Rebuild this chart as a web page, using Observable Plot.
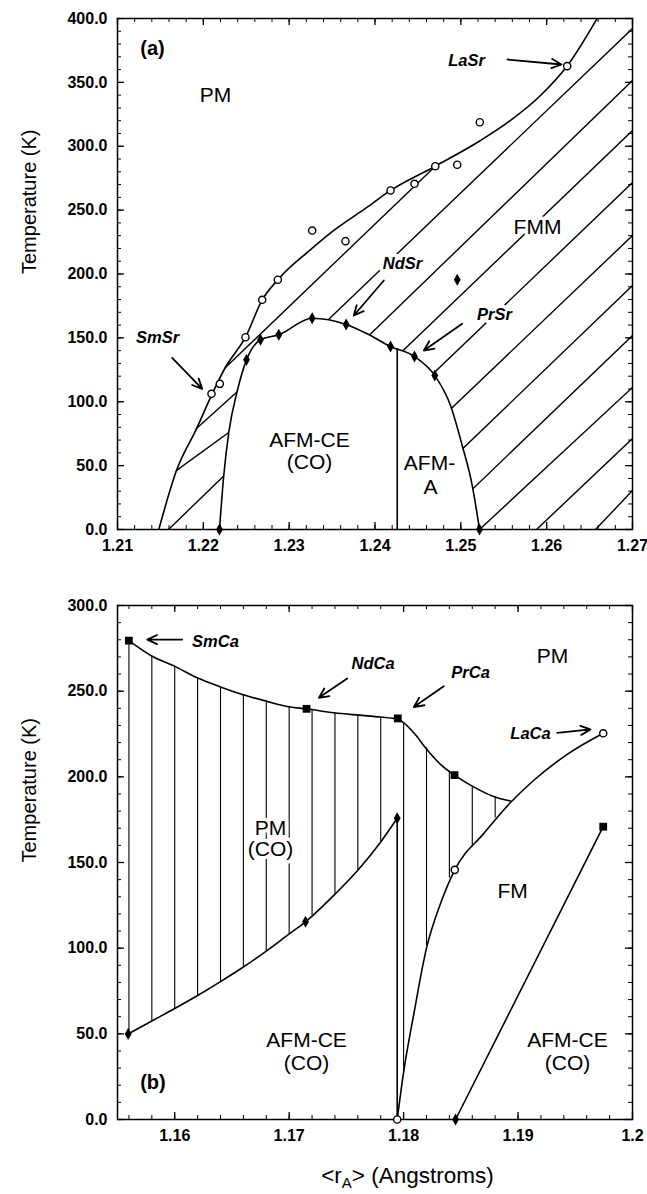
<!DOCTYPE html>
<html><head><meta charset="utf-8">
<script src="https://cdn.jsdelivr.net/npm/d3@7"></script>
<script src="https://cdn.jsdelivr.net/npm/@observablehq/plot@0.6"></script>
<style>
body{margin:0;background:#fff;}
#wrap{width:647px;}
#wrap svg{display:block;}
</style></head><body><div id="wrap"></div>
<script>
// ================= Panel (a) data =================
const aXDomain = [1.21, 1.27];
const aYDomain = [0, 400];
const aXTicks = [1.21, 1.22, 1.23, 1.24, 1.25, 1.26, 1.27];
const aXTickLabels = ["1.21", "1.22", "1.23", "1.24", "1.25", "1.26", "1.27"];
const aYTicks = [0, 50, 100, 150, 200, 250, 300, 350, 400];
const aYTickLabels = ["0.0", "50.0", "100.0", "150.0", "200.0", "250.0", "300.0", "350.0", "400.0"];

// open circles (Tc)
const aOpenX = [1.22095, 1.22192, 1.22491, 1.22686, 1.22868, 1.23268, 1.23656, 1.24181, 1.24460, 1.24702, 1.24958, 1.25221, 1.26239];
const aOpenT = [106.2, 114.0, 150.5, 179.8, 195.5, 234.0, 225.7, 265.4, 270.6, 284.4, 285.5, 318.8, 362.7];
// filled diamonds (T_CO)
const aCOX = [1.22188, 1.22503, 1.22666, 1.22879, 1.23268, 1.23664, 1.24181, 1.24460, 1.24697, 1.25218, 1.24958];
const aCOT = [0, 132.8, 148.5, 152.4, 165.4, 160.5, 143.2, 135.4, 120.5, 0, 195.5];
// PM / FMM boundary curve
const aTcX = [1.21481, 1.21687, 1.21920, 1.22103, 1.22258, 1.22491, 1.22686, 1.22868, 1.23249, 1.23520, 1.23909, 1.24181, 1.24702, 1.25229, 1.25579, 1.25928, 1.26243, 1.26592];
const aTcT = [0, 46.2, 78.8, 106.2, 127.0, 150.5, 179.8, 195.5, 219.0, 234.1, 252.3, 265.4, 284.4, 304.5, 320.2, 339.7, 363.2, 400.5];
// charge-order dome
const aDomeX = [1.22188, 1.22238, 1.22297, 1.22395, 1.22503, 1.22666, 1.22879, 1.23268, 1.23462, 1.23664, 1.23909, 1.24181, 1.24460, 1.24697, 1.24880, 1.25016, 1.25133, 1.25218];
const aDomeT = [0, 42.3, 76.2, 108.3, 132.8, 148.5, 152.4, 165.4, 164.2, 160.5, 153.2, 143.2, 135.4, 120.5, 97.1, 65.8, 34.4, 0];
// AFM-CE / AFM-A divider
const aDivX = [1.24259, 1.24259];
const aDivT = [0, 141.5];
// hatch segments (FMM region)
const aHx1 = [1.22142, 1.21862, 1.21629, 1.23132, 1.21594, 1.22433, 1.22783, 1.23412, 1.24041, 1.24647, 1.25218, 1.25882, 1.26569];
const aHt1 = [119.3, 75.5, 43.3, 143.4, 0, 18.0, 0, 0, 0, 0, 0, 0, 0];
const aHx2 = [1.24821, 1.22456, 1.22352, 1.27, 1.27, 1.27, 1.27, 1.27, 1.27, 1.27, 1.27, 1.27, 1.27];
const aHt2 = [292.0, 111.5, 78.7, 392.2, 351.5, 312.3, 271.6, 230.1, 191.0, 151.9, 111.2, 71.2, 30.5];
// region labels
const aRegText = ["PM", "FMM", "AFM-CE", "(CO)", "AFM-", "A"];
const aRegX = [1.22142, 1.25893, 1.23237, 1.23237, 1.24635, 1.24647];
const aRegT = [339.7, 236.4, 69.7, 52.4, 51.7, 32.9];
// compound labels + arrows
const aCmpText = ["SmSr", "NdSr", "PrSr", "LaSr"];
const aCmpX = [1.21466, 1.24320, 1.25392, 1.25066];
const aCmpT = [150.3, 208.2, 168.3, 367.1];
const aArrX1 = [1.21637, 1.24103, 1.25016, 1.25544];
const aArrT1 = [134.3, 194.9, 161.0, 367.9];
const aArrX2 = [1.21987, 1.23753, 1.24569, 1.26173];
const aArrT2 = [110.1, 167.5, 140.1, 364.0];
const aPanel = {text: "(a)", x: 1.21408, T: 376.5};

// ================= Panel (b) data =================
const bXDomain = [1.155, 1.2];
const bYDomain = [0, 300];
const bXTicks = [1.16, 1.17, 1.18, 1.19, 1.2];
const bXTickLabels = ["1.16", "1.17", "1.18", "1.19", "1.2"];
const bYTicks = [0, 50, 100, 150, 200, 250, 300];
const bYTickLabels = ["0.0", "50.0", "100.0", "150.0", "200.0", "250.0", "300.0"];

const bUpperX = [1.15599, 1.15803, 1.15998, 1.16196, 1.16400, 1.16590, 1.16799, 1.16997, 1.17152, 1.17390, 1.17609, 1.17798, 1.17949, 1.18089, 1.18191, 1.18322, 1.18445, 1.18599, 1.18818, 1.18934];
const bUpperT = [279.5, 270.4, 264.6, 257.8, 252.5, 248.1, 244.2, 240.9, 239.7, 237.4, 236.0, 234.9, 233.6, 225.7, 217.0, 207.3, 201.0, 194.6, 187.8, 185.9];
const bLowerX = [1.15593, 1.158, 1.160, 1.162, 1.164, 1.166, 1.168, 1.170, 1.17143, 1.174, 1.176, 1.178, 1.17944];
const bLowerT = [49.9, 57.5, 64.8, 72.4, 80.5, 89.0, 98.3, 108.3, 115.4, 131.5, 145.5, 162.0, 175.8];
const bDropX = [1.17944, 1.17944];
const bDropT = [175.8, 0];
const bFMX = [1.17944, 1.18002, 1.18089, 1.18200, 1.18322, 1.18447, 1.18701, 1.18934, 1.19138, 1.19430, 1.19744];
const bFMT = [0, 28.5, 61.5, 100.0, 125.9, 145.7, 167.0, 185.0, 198.0, 213.1, 225.4];
const bRightX = [1.18454, 1.19744];
const bRightT = [0, 170.9];
const bHatchX = [1.156, 1.158, 1.160, 1.162, 1.164, 1.166, 1.168, 1.170, 1.172, 1.174, 1.176, 1.178, 1.180, 1.182, 1.184, 1.186, 1.188];
const bHatchTop = [279.5, 270.4, 264.6, 257.8, 252.5, 248.1, 244.2, 240.9, 238.9, 237.4, 236.0, 234.9, 231.5, 217.0, 203.4, 194.6, 188.2];
const bHatchBot = [49.9, 57.5, 64.8, 72.4, 80.5, 89.0, 98.3, 108.3, 119.2, 131.5, 145.5, 162.0, 26.6, 101.4, 141.0, 159.0, 176.0];
const bSquareX = [1.15599, 1.17152, 1.17949, 1.18445, 1.19744];
const bSquareT = [279.5, 239.7, 234.1, 201.0, 170.9];
const bOpenX = [1.17944, 1.18447, 1.19744];
const bOpenT = [0, 145.7, 225.4];
const bDiamX = [1.15593, 1.17143, 1.17944, 1.18454];
const bDiamT = [49.9, 115.4, 175.8, 0];
const bRegText = ["PM", "PM", "(CO)", "FM", "AFM-CE", "(CO)", "AFM-CE", "(CO)"];
const bRegX = [1.19301, 1.16837, 1.16837, 1.18952, 1.17152, 1.17152, 1.19432, 1.19432];
const bRegT = [270.4, 170.2, 157.9, 133.5, 46.0, 32.6, 46.0, 32.6];
const bCmpText = ["SmCa", "NdCa", "PrCa", "LaCa"];
const bCmpX = [1.16356, 1.17733, 1.18585, 1.19109];
const bCmpT = [279.1, 266.3, 260.5, 224.9];
const bArrX1 = [1.16065, 1.17507, 1.18351, 1.19342];
const bArrT1 = [280.1, 257.4, 252.9, 225.7];
const bArrX2 = [1.15760, 1.17259, 1.18089, 1.19633];
const bArrT2 = [280.1, 246.1, 240.7, 227.7];
const bPanel = {text: "(b)", x: 1.15810, T: 21.6};

// ================= helpers =================
const FONT = "'Liberation Sans', Arial, Helvetica, sans-serif";
const CURVE = "monotone-x";
const zip = (xs, ts) => xs.map((x, i) => ({x, T: ts[i]}));
const W = 647, ML = 117, MR = 15;

function frameTicks(xMaj, xMin, yMaj, yMin, innerW, innerH) {
  const L = 7, S = 4;
  return [
    Plot.tickX(xMin, {x: d => d, insetTop: innerH - S, strokeWidth: 1}),
    Plot.tickX(xMaj, {x: d => d, insetTop: innerH - L, strokeWidth: 1.3}),
    Plot.tickX(xMin, {x: d => d, insetBottom: innerH - S, strokeWidth: 1}),
    Plot.tickX(xMaj, {x: d => d, insetBottom: innerH - L, strokeWidth: 1.3}),
    Plot.tickY(yMin, {y: d => d, insetRight: innerW - S, strokeWidth: 1}),
    Plot.tickY(yMaj, {y: d => d, insetRight: innerW - L, strokeWidth: 1.3}),
    Plot.tickY(yMin, {y: d => d, insetLeft: innerW - S, strokeWidth: 1}),
    Plot.tickY(yMaj, {y: d => d, insetLeft: innerW - L, strokeWidth: 1.3})
  ];
}
function tickLabels(xt, xl, yt, yl) {
  return [
    Plot.axisX(xt, {anchor: "bottom", tickSize: 0, tickPadding: 10, label: null, fontSize: 16, fontWeight: "bold",
      tickFormat: d => xl[xt.indexOf(d)]}),
    Plot.axisY(yt, {anchor: "left", tickSize: 0, tickPadding: 10, label: null, fontSize: 16, fontWeight: "bold",
      tickFormat: d => yl[yt.indexOf(d)]})
  ];
}
const regionText = (xs, ts, txt) => Plot.text(xs.map((x, i) => ({x, T: ts[i], s: txt[i]})), {
  x: "x", y: "T", text: "s", fontSize: 21, fill: "black", stroke: "white", strokeWidth: 7,
  paintOrder: "stroke", strokeLinejoin: "round"});
const cmpText = (xs, ts, txt) => Plot.text(xs.map((x, i) => ({x, T: ts[i], s: txt[i]})), {
  x: "x", y: "T", text: "s", fontSize: 16.5, fontWeight: "bold", fontStyle: "italic", fill: "black",
  stroke: "white", strokeWidth: 7, paintOrder: "stroke", strokeLinejoin: "round"});
const arrows = (x1, t1, x2, t2) => Plot.arrow(x1.map((x, i) => ({x1: x, y1: t1[i], x2: x2[i], y2: t2[i]})), {
  x1: "x1", y1: "y1", x2: "x2", y2: "y2", strokeWidth: 1.8, headLength: 9, headAngle: 50, stroke: "black"});

// ================= Panel (a) =================
const HA = 590, MTa = 18, MBa = 61;
const innerWa = W - ML - MR, innerHa = HA - MTa - MBa;
const tc = zip(aTcX, aTcT), dome = zip(aDomeX, aDomeT);
const chartA = Plot.plot({
  width: W, height: HA, marginLeft: ML, marginRight: MR, marginTop: MTa, marginBottom: MBa,
  style: {fontFamily: FONT, fontSize: "16px", color: "black", background: "white", overflow: "visible"},
  x: {domain: aXDomain, axis: null},
  y: {domain: aYDomain, axis: null},
  marks: [
    Plot.link(aHx1.map((x, i) => ({x1: x, y1: aHt1[i], x2: aHx2[i], y2: aHt2[i]})),
      {x1: "x1", y1: "y1", x2: "x2", y2: "y2", stroke: "black", strokeWidth: 1.4, clip: true}),
    Plot.rect([0], {x1: aXDomain[0], x2: aTcX[0], y1: aYDomain[0], y2: aYDomain[1], fill: "white", clip: true}),
    Plot.areaY(tc, {x: "x", y1: "T", y2: aYDomain[1] + 20, fill: "white", curve: CURVE, clip: true}),
    Plot.areaY(dome, {x: "x", y1: 0, y2: "T", fill: "white", curve: CURVE, clip: true}),
    Plot.line(tc, {x: "x", y: "T", curve: CURVE, strokeWidth: 1.6, clip: true}),
    Plot.line(dome, {x: "x", y: "T", curve: CURVE, strokeWidth: 1.6, clip: true}),
    Plot.line(zip(aDivX, aDivT), {x: "x", y: "T", strokeWidth: 1.6}),
    ...frameTicks(aXTicks, d3.range(1.21, 1.2701, 0.002), aYTicks, d3.range(0, 401, 10), innerWa, innerHa),
    Plot.frame({strokeWidth: 1.5}),
    ...tickLabels(aXTicks, aXTickLabels, aYTicks, aYTickLabels),
    Plot.text(["Temperature (K)"], {frameAnchor: "left", dx: -88, rotate: -90, fontSize: 20}),
    regionText(aRegX, aRegT, aRegText),
    cmpText(aCmpX, aCmpT, aCmpText),
    arrows(aArrX1, aArrT1, aArrX2, aArrT2),
    Plot.text([aPanel], {x: "x", y: "T", text: "text", fontSize: 20, fontWeight: "bold"}),
    Plot.dot(zip(aOpenX, aOpenT), {x: "x", y: "T", r: 3.6, fill: "white", stroke: "black", strokeWidth: 1.4}),
    Plot.dot(zip(aCOX, aCOT), {x: "x", y: "T", r: 3.6, symbol: "diamond", fill: "black"})
  ]
});

// ================= Panel (b) =================
const HB = 604, MTb = 15, MBb = 75;
const innerWb = W - ML - MR, innerHb = HB - MTb - MBb;
const chartB = Plot.plot({
  width: W, height: HB, marginLeft: ML, marginRight: MR, marginTop: MTb, marginBottom: MBb,
  style: {fontFamily: FONT, fontSize: "16px", color: "black", background: "white", overflow: "visible"},
  x: {domain: bXDomain, axis: null},
  y: {domain: bYDomain, axis: null},
  marks: [
    Plot.ruleX(bHatchX.map((x, i) => ({x, t: bHatchTop[i], b: bHatchBot[i]})),
      {x: "x", y1: "b", y2: "t", stroke: "black", strokeWidth: 1.1}),
    Plot.line(zip(bUpperX, bUpperT), {x: "x", y: "T", curve: CURVE, strokeWidth: 1.6}),
    Plot.line(zip(bLowerX, bLowerT), {x: "x", y: "T", curve: CURVE, strokeWidth: 1.6}),
    Plot.line(zip(bDropX, bDropT), {x: "x", y: "T", strokeWidth: 1.6}),
    Plot.line(zip(bFMX, bFMT), {x: "x", y: "T", curve: CURVE, strokeWidth: 1.6}),
    Plot.line(zip(bRightX, bRightT), {x: "x", y: "T", strokeWidth: 1.6}),
    ...frameTicks(bXTicks, d3.range(1.156, 1.1991, 0.002), bYTicks, d3.range(0, 301, 10), innerWb, innerHb),
    Plot.frame({strokeWidth: 1.5}),
    ...tickLabels(bXTicks, bXTickLabels, bYTicks, bYTickLabels),
    Plot.text(["Temperature (K)"], {frameAnchor: "left", dx: -88, rotate: -90, fontSize: 20}),
    regionText(bRegX, bRegT, bRegText),
    cmpText(bCmpX, bCmpT, bCmpText),
    arrows(bArrX1, bArrT1, bArrX2, bArrT2),
    Plot.text([bPanel], {x: "x", y: "T", text: "text", fontSize: 20, fontWeight: "bold"}),
    Plot.dot(zip(bSquareX, bSquareT), {x: "x", y: "T", r: 4.4, symbol: "square", fill: "black"}),
    Plot.dot(zip(bOpenX, bOpenT), {x: "x", y: "T", r: 3.6, fill: "white", stroke: "black", strokeWidth: 1.4}),
    Plot.dot(zip(bDiamX, bDiamT), {x: "x", y: "T", r: 3.6, symbol: "diamond", fill: "black"})
  ]
});

// x-axis title with subscript
{
  const [r0, r1] = chartB.scale("x").range;
  const t = d3.select(chartB).append("text")
    .attr("x", (r0 + r1) / 2 + 33).attr("y", HB - 11)
    .attr("text-anchor", "middle").attr("font-size", 22.5).attr("fill", "black")
    .attr("font-family", FONT);
  t.append("tspan").text("<r");
  t.append("tspan").attr("dy", 5).attr("font-size", 15).text("A");
  t.append("tspan").attr("dy", -5).text("> (Angstroms)");
}

document.getElementById("wrap").append(chartA, chartB);
</script>
</body></html>
